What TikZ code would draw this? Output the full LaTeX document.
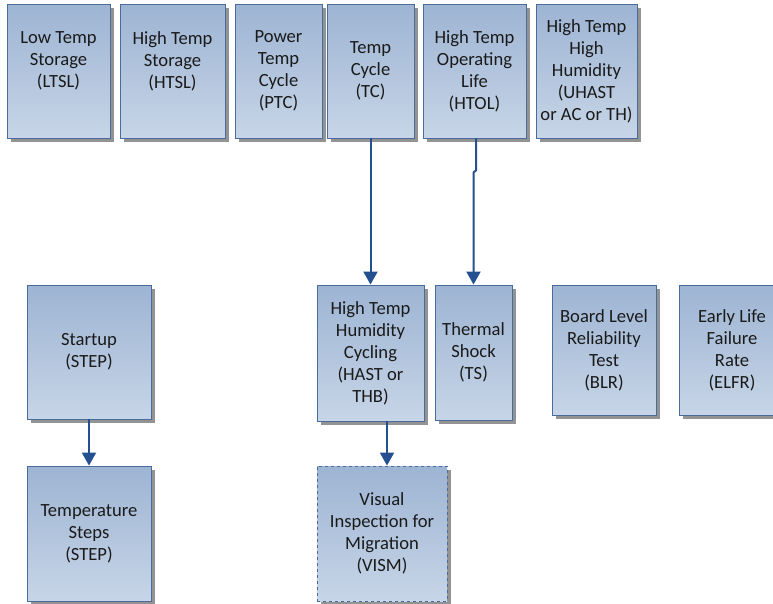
\documentclass[tikz,border=0pt]{standalone}
\usepackage{fontspec}
\setmainfont{Carlito}
\usetikzlibrary{shadows,arrows.meta}
\definecolor{boxtop}{HTML}{9DB4D3}
\definecolor{boxbot}{HTML}{C7D5E7}
\definecolor{boxline}{HTML}{4A6C9C}
\definecolor{arrcol}{HTML}{245091}
\definecolor{shadowcol}{HTML}{939393}
\definecolor{txt}{HTML}{1A1A1A}
\tikzset{
  box/.style={draw=boxline, line width=0.9pt, top color=boxtop, bottom color=boxbot,
    inner sep=0pt, align=center, text=txt, font=\fontsize{18.6}{22}\selectfont,
    drop shadow={shadow xshift=4pt, shadow yshift=-4pt, fill=shadowcol, opacity=1}},
  arr/.style={draw=arrcol, line width=2pt, -{Triangle[width=14pt,length=13pt]}}
}
\begin{document}
\begin{tikzpicture}[x=1pt,y=-1pt]
\useasboundingbox (0,0) rectangle (773,603);
% top row
\node[box, minimum width=103pt, minimum height=134pt] (ltsl) at (58.5,71) {Low Temp\\Storage\\(LTSL)\\\mbox{}};
\node[box, minimum width=105pt, minimum height=134pt] (htsl) at (172.5,71) {High Temp\\Storage\\(HTSL)\\\mbox{}};
\node[box, minimum width=87pt, minimum height=134pt] (ptc) at (278.5,71) {Power\\Temp\\Cycle\\(PTC)};
\node[box, minimum width=87pt, minimum height=134pt] (tc) at (370.5,71) {Temp\\Cycle\\(TC)};
\node[box, minimum width=103pt, minimum height=134pt] (htol) at (474.5,71) {High Temp\\Operating\\Life\\(HTOL)};
\node[box, minimum width=101pt, minimum height=134pt] (uhast) at (586.5,71) {High Temp\\High\\Humidity\\(UHAST\\or AC or TH)};
% second row
\node[box, minimum width=124pt, minimum height=134pt] (start) at (89,352) {Startup\\(STEP)};
\node[box, minimum width=107pt, minimum height=136pt] (hast) at (370.5,353) {High Temp\\Humidity\\Cycling\\(HAST or\\THB)};
\node[box, minimum width=77pt, minimum height=135pt] (ts) at (473.5,352.5) {Thermal\\Shock\\(TS)};
\node[box, minimum width=104pt, minimum height=130pt] (blr) at (604,350) {Board Level\\Reliability\\Test\\(BLR)};
\node[box, minimum width=106pt, minimum height=130pt] (elfr) at (732,350) {Early Life\\Failure\\Rate\\(ELFR)};
% third row
\node[box, minimum width=124pt, minimum height=135pt] (tsteps) at (89,533.5) {Temperature\\Steps\\(STEP)};
\node[box, dashed, minimum width=130pt, minimum height=135pt] (vism) at (382,533.5) {Visual\\Inspection for\\Migration\\(VISM)};
% connectors
\draw[arr] (tc.south) -- (hast.north);
\draw[arr] ([xshift=1.5pt]htol.south) -- ++(0,32) -- ++(-2.5,2) -- (ts.north);
\draw[arr] (start.south) -- (tsteps.north);
\draw[arr] ([xshift=16.5pt]hast.south) -- ([xshift=5pt]vism.north);
\end{tikzpicture}
\end{document}
